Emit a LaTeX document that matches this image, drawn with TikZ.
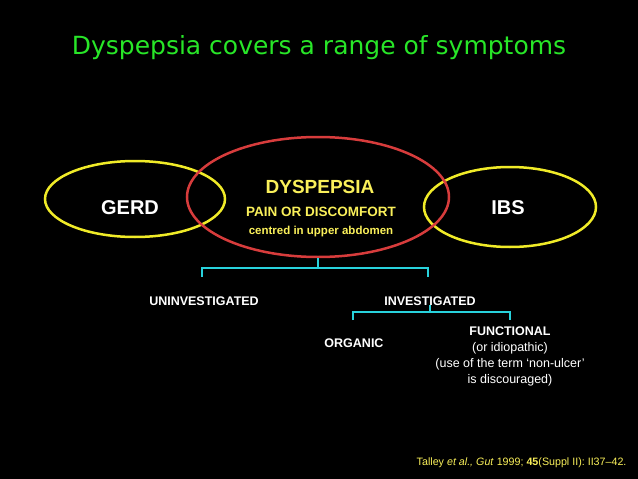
\documentclass[tikz,border=0pt]{standalone}
\usepackage{fontspec}
\setmainfont{Liberation Sans}
\newfontfamily\titlefont{DejaVu Sans}
\definecolor{titlegreen}{RGB}{40,230,40}
\definecolor{ringred}{RGB}{215,60,60}
\definecolor{ringyellow}{RGB}{240,235,40}
\definecolor{textyellow}{RGB}{250,240,90}
\definecolor{bracketcyan}{RGB}{40,210,220}
\tikzset{
  ring/.style={draw, ellipse, line width=2.5pt, minimum width=#1},
  lbl/.style={text=white, font=\bfseries\fontsize{12.5}{14}\selectfont},
  bracket/.style={draw=bracketcyan, line width=2pt}
}
\usetikzlibrary{shapes.geometric}
\begin{document}
\begin{tikzpicture}[x=1pt,y=-1pt]
  \fill[black] (0,0) rectangle (638,479);
  \useasboundingbox (0,0) rectangle (638,479);

  \node[text=titlegreen, font=\titlefont\fontsize{25}{30}\selectfont] (Title) at (319,48) {Dyspepsia covers a range of symptoms};

  \node[ring, draw=ringyellow, minimum width=180pt, minimum height=76pt] (Gerd) at (135,199) {};
  \node[ring, draw=ringyellow, minimum width=172pt, minimum height=80pt] (Ibs) at (510,207) {};
  \node[ring, draw=ringred, minimum width=262pt, minimum height=120pt] (Dyspepsia) at (318,197) {};

  \node[text=white, font=\bfseries\fontsize{20}{24}\selectfont] (GerdText) at (130,208) {GERD};
  \node[text=white, font=\bfseries\fontsize{20}{24}\selectfont] (IbsText) at (508,208) {IBS};
  \node[text=textyellow, font=\bfseries\fontsize{19}{22}\selectfont] (DysText) at (320,187) {DYSPEPSIA};
  \node[text=textyellow, font=\bfseries\fontsize{13.5}{16}\selectfont] (Pain) at (321,212) {PAIN OR DISCOMFORT};
  \node[text=textyellow, font=\bfseries\fontsize{11.5}{13}\selectfont] (Centred) at (321,232) {centred in upper abdomen};

  \node[lbl] (Uninv) at (204,301) {UNINVESTIGATED};
  \node[lbl] (Inv) at (430,301) {INVESTIGATED};
  \node[lbl] (Organic) at (354,343) {ORGANIC};
  \node[text=white, align=center, font=\fontsize{12.5}{16}\selectfont] (Functional) at (510,356)
    {\textbf{FUNCTIONAL}\\(or idiopathic)\\(use of the term ‘non-ulcer’\\is discouraged)};

  \coordinate (TopStem) at (318,258);
  \coordinate (InvStem) at (430,305);
  \draw[bracket] (TopStem) -- (318,268);
  \draw[bracket] (202,277) -- (202,268) -- (428,268) -- (428,277);
  \draw[bracket] (InvStem) -- (430,312);
  \draw[bracket] (353,320) -- (353,312) -- (510,312) -- (510,320);

  \node[text=textyellow, font=\fontsize{10.7}{12}\selectfont, anchor=east] (Cite) at (630,463)
    {Talley \textit{et al., Gut} 1999; \textbf{45}(Suppl II): II37--42.};
\end{tikzpicture}
\end{document}
